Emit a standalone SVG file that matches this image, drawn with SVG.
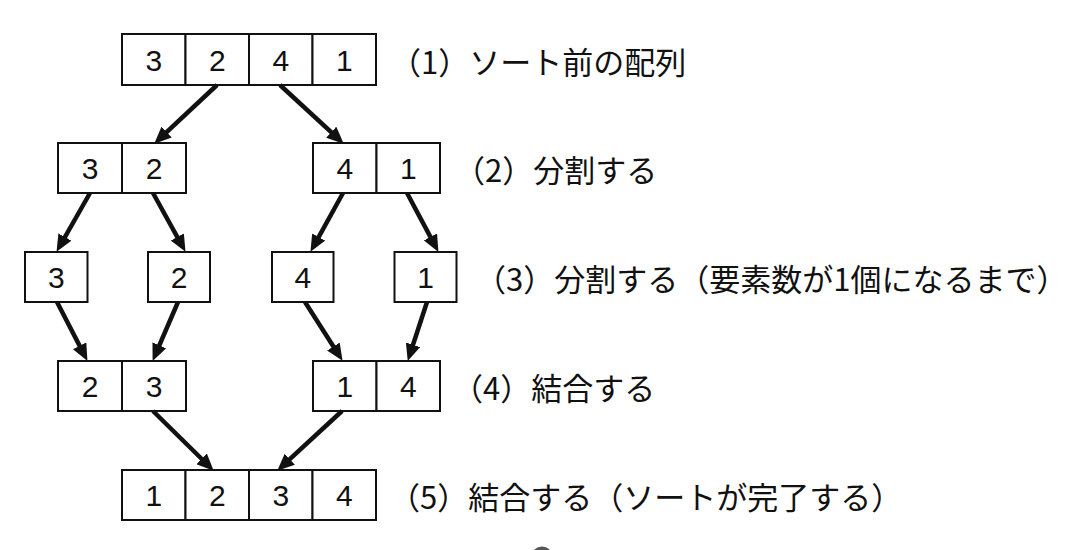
<svg xmlns="http://www.w3.org/2000/svg" width="1075" height="550" viewBox="0 0 1075 550">
<style>
.cell{fill:#fff;stroke:#111;stroke-width:2}
.num{font-family:"Liberation Sans",Arial,sans-serif;font-size:30px;fill:#111;text-anchor:middle;dominant-baseline:central}
.lbl{font-family:"Noto Sans CJK JP","Noto Sans CJK SC",sans-serif;font-size:31px;fill:#111;dominant-baseline:central}
.arr{stroke:#111;stroke-width:4.5;fill:none;marker-end:url(#ah)}
</style>
<defs>
<marker id="ah" markerUnits="userSpaceOnUse" markerWidth="17" markerHeight="15" viewBox="0 0 17 15" refX="11" refY="7.5" orient="auto">
<path d="M0,0 L17,7.5 L0,15 z" fill="#111"/>
</marker>
</defs>
<rect width="1075" height="550" fill="#fff"/>
<g id="row1">
<rect class="cell" x="122" y="34" width="63.5" height="51"/>
<rect class="cell" x="185.5" y="34" width="63.5" height="51"/>
<rect class="cell" x="249" y="34" width="63.5" height="51"/>
<rect class="cell" x="312.5" y="34" width="63.5" height="51"/>
<text class="num" x="153.8" y="60">3</text>
<text class="num" x="217.3" y="60">2</text>
<text class="num" x="280.8" y="60">4</text>
<text class="num" x="344.3" y="60">1</text>
<text class="lbl" x="390" y="60">（1）ソート前の配列</text>
</g>
<g id="row2-left">
<rect class="cell" x="58" y="143" width="64" height="50"/>
<rect class="cell" x="122" y="143" width="64" height="50"/>
<text class="num" x="90" y="168">3</text>
<text class="num" x="154" y="168">2</text>
</g>
<g id="row2-right">
<rect class="cell" x="313" y="143" width="63.5" height="50"/>
<rect class="cell" x="376.5" y="143" width="63.5" height="50"/>
<text class="num" x="344.8" y="168">4</text>
<text class="num" x="408.3" y="168">1</text>
</g>
<text class="lbl" x="454" y="168">（2）分割する</text>
<g id="row3-a"><rect class="cell" x="25" y="252" width="62.5" height="50"/><text class="num" x="56.3" y="277">3</text></g>
<g id="row3-b"><rect class="cell" x="148" y="252" width="62" height="50"/><text class="num" x="179" y="277">2</text></g>
<g id="row3-c"><rect class="cell" x="272" y="252" width="61.5" height="50"/><text class="num" x="302.8" y="277">4</text></g>
<g id="row3-d"><rect class="cell" x="394.5" y="252" width="62" height="50"/><text class="num" x="425.5" y="277">1</text></g>
<text class="lbl" x="475" y="277">（3）分割する（要素数が1個になるまで）</text>
<g id="row4-left">
<rect class="cell" x="58" y="361" width="64" height="50"/>
<rect class="cell" x="122" y="361" width="64" height="50"/>
<text class="num" x="90" y="386">2</text>
<text class="num" x="154" y="386">3</text>
</g>
<g id="row4-right">
<rect class="cell" x="313" y="361" width="63.5" height="50"/>
<rect class="cell" x="376.5" y="361" width="63.5" height="50"/>
<text class="num" x="344.8" y="386">1</text>
<text class="num" x="408.3" y="386">4</text>
</g>
<text class="lbl" x="452" y="386">（4）結合する</text>
<g id="row5">
<rect class="cell" x="122" y="470" width="63.5" height="50"/>
<rect class="cell" x="185.5" y="470" width="63.5" height="50"/>
<rect class="cell" x="249" y="470" width="63.5" height="50"/>
<rect class="cell" x="312.5" y="470" width="63.5" height="50"/>
<text class="num" x="153.8" y="495">1</text>
<text class="num" x="217.3" y="495">2</text>
<text class="num" x="280.8" y="495">3</text>
<text class="num" x="344.3" y="495">4</text>
<text class="lbl" x="389" y="495">（5）結合する（ソートが完了する）</text>
</g>
<g id="connectors">
<line class="arr" x1="217" y1="85" x2="158.6" y2="139.6"/>
<line class="arr" x1="280" y1="85" x2="339.3" y2="139.6"/>
<line class="arr" x1="90" y1="193" x2="59.5" y2="246.6"/>
<line class="arr" x1="153" y1="193" x2="182.6" y2="246.6"/>
<line class="arr" x1="343" y1="193" x2="313.4" y2="246.6"/>
<line class="arr" x1="407" y1="193" x2="435.6" y2="246.6"/>
<line class="arr" x1="57" y1="302" x2="84.7" y2="355.6"/>
<line class="arr" x1="178" y1="302" x2="155" y2="355.4"/>
<line class="arr" x1="305" y1="302" x2="339.3" y2="355.8"/>
<line class="arr" x1="427" y1="302" x2="409.6" y2="355.2"/>
<line class="arr" x1="153" y1="411" x2="209.4" y2="466.5"/>
<line class="arr" x1="342" y1="411" x2="281.7" y2="466.6"/>
</g>
<circle cx="542" cy="557" r="10.5" fill="#555"/>
</svg>
